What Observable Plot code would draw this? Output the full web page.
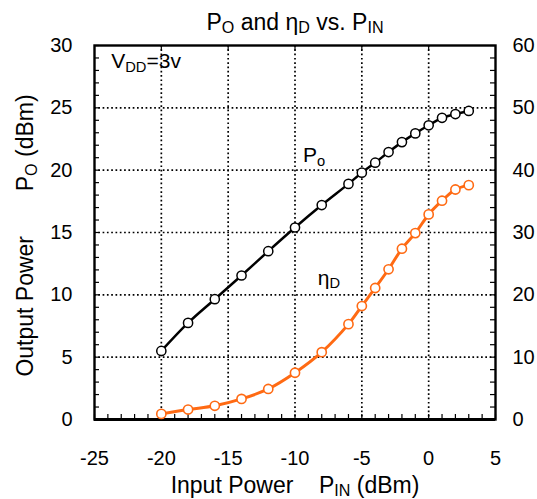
<!DOCTYPE html>
<html><head><meta charset="utf-8">
<script src="https://cdn.jsdelivr.net/npm/d3@7"></script>
<script src="https://cdn.jsdelivr.net/npm/@observablehq/plot@0.6"></script>
<style>body{margin:0;background:#fff} #chart svg{display:block}</style>
</head><body><div id="chart"></div>
<script>
// ---- data ----
const pin   = [-20, -18, -16, -14, -12, -10, -8, -6, -5, -4, -3, -2, -1, 0, 1, 2, 3];
const po    = [5.5, 7.75, 9.65, 11.55, 13.5, 15.4, 17.2, 18.9, 19.8, 20.6, 21.45, 22.25, 22.95, 23.6, 24.2, 24.5, 24.75];
const etaD  = [0.9, 1.6, 2.2, 3.3, 4.9, 7.5, 10.8, 15.3, 18.2, 21.1, 24.1, 27.4, 29.9, 32.9, 35.1, 36.9, 37.6];
const xTicks = [-25, -20, -15, -10, -5, 0, 5];
const yTicks = [0, 5, 10, 15, 20, 25, 30];
const rightTicks = [0, 10, 20, 30, 40, 50, 60];
const xGrid = [-20, -15, -10, -5, 0];
const yGrid = [5, 10, 15, 20, 25];
const xMinor = d3.range(-25, 6, 1);
const yMinor = d3.range(0, 31, 1);
const title = "P_{O} and \u03b7_{D} vs. P_{IN}";
const xLabel = "Input Power\u00a0\u00a0\u00a0\u00a0P_{IN} (dBm)";
const yLabel = "Output Power\u00a0\u00a0\u00a0\u00a0\u00a0\u00a0\u00a0P_{O} (dBm)";
const noteText = ["P_{o}", "\u03b7_{D}", "V_{DD}=3v"];
const noteX = [-9.4, -8.3, -23.75];
const noteY = [20.66, 10.8, 28.2];

const poData = pin.map((x, i) => ({x, y: po[i]}));
const etaData = pin.map((x, i) => ({x, eta: etaD[i]}));
const notes = noteText.map((t, i) => ({text: t, x: noteX[i], y: noteY[i]}));

const FONT = "'Liberation Sans', Arial, sans-serif";
const ORANGE = "#ff6a13";
const dotted = {stroke: "black", strokeOpacity: 1, strokeWidth: 1.7, strokeDasharray: "1.7,2.6"};

const chart = Plot.plot({
  width: 537, height: 499,
  marginLeft: 94, marginRight: 42, marginTop: 45, marginBottom: 80,
  style: {fontFamily: FONT, fontSize: "20px", background: "white", color: "black"},
  x: {domain: [-25, 5], label: null},
  y: {domain: [0, 30], label: null},
  marks: [
    Plot.gridX(xGrid, dotted),
    Plot.gridY(yGrid, dotted),
    Plot.ruleX(xMinor, {x: d => d, y1: 0, y2: 0, insetTop: -5, stroke: "black", strokeWidth: 1.2}),
    Plot.ruleX(xGrid, {x: d => d, y1: 30, y2: 30, insetBottom: -5, stroke: "black", strokeWidth: 1.2}),
    Plot.ruleY(yMinor, {y: d => d, x1: -25, x2: -25, insetRight: -5, stroke: "black", strokeWidth: 1.2}),
    Plot.ruleY(yMinor, {y: d => d, x1: 5, x2: 5, insetLeft: -5, stroke: "black", strokeWidth: 1.2}),
    Plot.frame({stroke: "black", strokeWidth: 2.4}),
    Plot.ruleY([0], {stroke: "black", strokeWidth: 3.2}),
    Plot.line(poData, {x: "x", y: "y", curve: "catmull-rom", stroke: "black", strokeWidth: 2.5}),
    Plot.dot(poData, {x: "x", y: "y", r: 4.6, fill: "white", stroke: "black", strokeWidth: 1.5}),
    Plot.line(etaData, {x: "x", y: d => d.eta / 2, curve: "catmull-rom", stroke: ORANGE, strokeWidth: 3}),
    Plot.dot(etaData, {x: "x", y: d => d.eta / 2, r: 4.6, fill: "white", stroke: ORANGE, strokeWidth: 1.6}),
    Plot.axisX(xTicks, {anchor: "bottom", tickSize: 0, tickPadding: 31, label: null, tickFormat: d => String(d), fontFamily: FONT}),
    Plot.axisY(yTicks, {anchor: "left", tickSize: 0, tickPadding: 22, label: null, tickFormat: d => String(d), fontFamily: FONT}),
    Plot.axisY(rightTicks.map(d => d / 2), {anchor: "right", tickSize: 0, tickPadding: 17, label: null, tickFormat: d => String(d * 2), fontFamily: FONT}),
    Plot.text([title], {text: d => d, frameAnchor: "top", dy: -16, lineAnchor: "bottom", fontSize: 23, fontFamily: FONT}),
    Plot.text([xLabel], {text: d => d, frameAnchor: "bottom", dy: 73, lineAnchor: "bottom", fontSize: 23, fontFamily: FONT}),
    Plot.text([yLabel], {text: d => d, frameAnchor: "left", textAnchor: "middle", dx: -69, dy: 3, rotate: -90, fontSize: 23, fontFamily: FONT}),
    Plot.text(notes, {x: "x", y: "y", text: "text", textAnchor: "start", lineAnchor: "bottom", fontSize: 21, fontFamily: FONT})
  ]
});

// subscripts: turn "_{...}" into lowered, smaller tspans
const RATIO = 0.7, SHIFT = 0.17;
d3.select(chart).selectAll("text").each(function() {
  const s = this.textContent;
  if (!s.includes("_{")) return;
  const parts = s.split(/(_\{[^}]*\})/).filter(p => p);
  const el = d3.select(this);
  el.text("");
  let lowered = false;
  for (const p of parts) {
    if (p.startsWith("_{")) {
      el.append("tspan").attr("font-size", `${RATIO * 100}%`).attr("dy", `${SHIFT / RATIO}em`).text(p.slice(2, -1));
      lowered = true;
    } else {
      const t = el.append("tspan").text(p);
      if (lowered) t.attr("dy", `${-SHIFT}em`);
      lowered = false;
    }
  }
});

document.getElementById("chart").append(chart);
</script>
</body></html>
